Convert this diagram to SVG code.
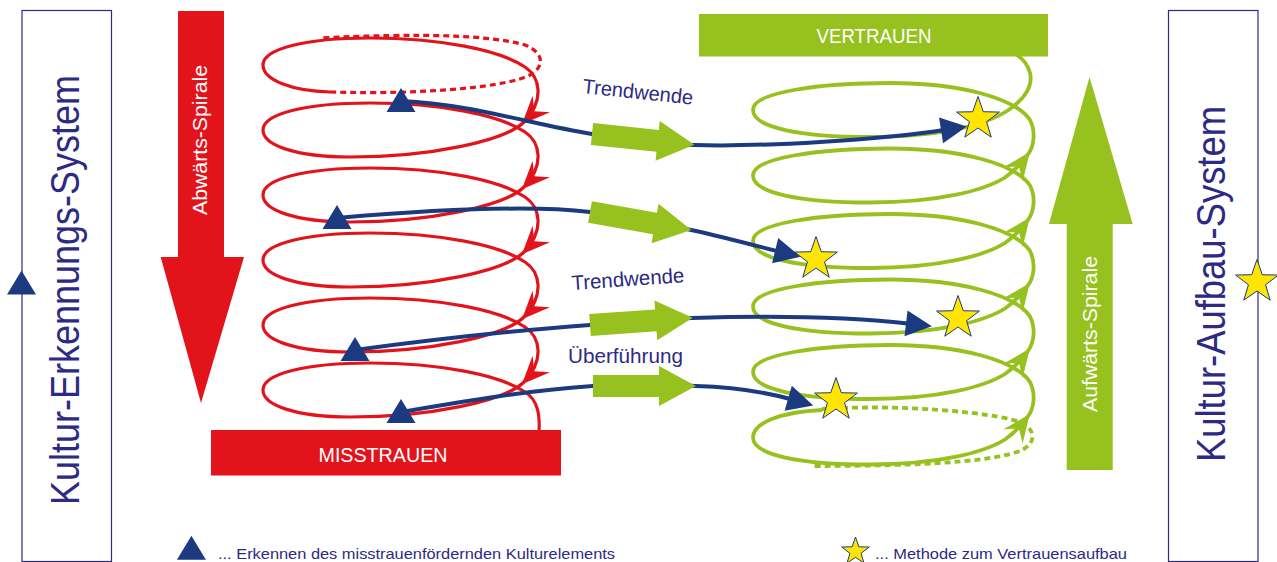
<svg xmlns="http://www.w3.org/2000/svg" width="1277" height="562" viewBox="0 0 1277 562">
<style>
.t{font-family:"Liberation Sans",Arial,sans-serif}
.ind{fill:#2d2a83}
.wh{fill:#ffffff}
.rsp{fill:none;stroke:#e3131b;stroke-width:3.2}
.gsp{fill:none;stroke:#97c11f;stroke-width:3.8}
.rm{marker-end:url(#mRed)}
.gm{marker-end:url(#mGrn)}
.blue{fill:none;stroke:#1c3a80;stroke-width:4;marker-end:url(#mBlue)}
.tri{fill:#1c3a80}
.star{fill:#ffe500;stroke:#1c3a80;stroke-width:1}
.box{fill:none;stroke:#2d2a83;stroke-width:1.2}
.garr{fill:#97c11f}
</style>
<defs>
<marker id="mRed" markerUnits="userSpaceOnUse" markerWidth="40" markerHeight="40" refX="25" refY="12" orient="auto" overflow="visible"><path d="M28,12 L0,0 L10,12 L0,24 z" fill="#e3131b"/></marker>
<marker id="mGrn" markerUnits="userSpaceOnUse" markerWidth="40" markerHeight="40" refX="25" refY="12" orient="auto" overflow="visible"><path d="M28,12 L0,0 L10,12 L0,24 z" fill="#97c11f"/></marker>
<marker id="mBlue" markerUnits="userSpaceOnUse" markerWidth="30" markerHeight="30" refX="6" refY="13" orient="auto" overflow="visible"><path d="M0,0 L26,13 L0,26 z" fill="#1c3a80"/></marker>
<path id="starL" d="M0,-22.5 L5.29,-7.28 L21.4,-6.95 L8.56,2.78 L13.23,18.2 L0,9 L-13.23,18.2 L-8.56,2.78 L-21.4,-6.95 L-5.29,-7.28 z"/>
<path id="starS" d="M0,-14.5 L3.41,-4.69 L13.79,-4.48 L5.52,1.79 L8.52,11.73 L0,5.8 L-8.52,11.73 L-5.52,1.79 L-13.79,-4.48 L-3.41,-4.69 z"/>
<path id="tri" d="M0,-12 L14.5,12 L-14.5,12 z"/>
<path id="blockArrow" d="M0,-11 L66,-11 L66,-20 L103,0 L66,20 L66,11 L0,11 z"/>
</defs>

<g id="box-kultur-erkennungs-system">
<rect class="box" x="22" y="10.5" width="89.5" height="551"/>
<text class="t ind" transform="translate(79,290) rotate(-90)" text-anchor="middle" font-size="40" textLength="430" lengthAdjust="spacingAndGlyphs">Kultur-Erkennungs-System</text>
<use href="#tri" class="tri" x="21.5" y="282.5"/>
</g>

<g id="box-kultur-aufbau-system">
<rect class="box" x="1168.5" y="10.5" width="89.5" height="551"/>
<text class="t ind" transform="translate(1225,284) rotate(-90)" text-anchor="middle" font-size="40" textLength="356" lengthAdjust="spacingAndGlyphs">Kultur-Aufbau-System</text>
<use href="#starL" class="star" x="1257" y="282"/>
</g>

<g id="arrow-abwaerts-spirale">
<polygon points="178,11 224,11 224,257 244,257 201,403 160.7,257 178,257" fill="#e3131b"/>
<text class="t wh" transform="translate(206.5,140) rotate(-90)" text-anchor="middle" font-size="21" textLength="150" lengthAdjust="spacingAndGlyphs">Abwärts-Spirale</text>
</g>

<g id="arrow-aufwaerts-spirale">
<polygon points="1066.7,470 1112.7,470 1112.7,224 1132.7,224 1089.5,77 1049,224 1066.7,224" fill="#97c11f"/>
<text class="t wh" transform="translate(1096.5,334) rotate(-90)" text-anchor="middle" font-size="21" textLength="156" lengthAdjust="spacingAndGlyphs">Aufwärts-Spirale</text>
</g>

<g id="spiral-green">
<path class="gsp" stroke-dasharray="6 4" d="M822,409 C900,404 990,412 1020,422 C1038,430 1036,446 1017,452 C990,461 930,466 813,466"/>
<path class="gsp gm" d="M822,410 C780,412 753,423 753,437.5 C753,455 800,464.5 870,464.5 C940,464.5 985,452 1005,439.5 C1015,432.5 1022,424.5 1028,416.5"/>
<path class="gsp gm" d="M1028,416.5 C1034,408 1036,394 1030,382 C1015,360 960,345 890,345 C820,345 753,354 753,372 C753,389.5 800,399 870,399 C940,399 985,386.5 1005,374 C1015,367 1022,359 1028,351"/>
<path class="gsp gm" d="M1028,351 C1034,342.5 1036,328.5 1030,316.5 C1015,294.5 960,279.5 890,279.5 C820,279.5 753,288.5 753,306.5 C753,324 800,333.5 870,333.5 C940,333.5 985,321 1005,308.5 C1015,301.5 1022,293.5 1028,285.5"/>
<path class="gsp gm" d="M1028,285.5 C1034,277 1036,263 1030,251 C1015,229 960,214 890,214 C820,214 753,223 753,241 C753,258.5 800,268 870,268 C940,268 985,255.5 1005,243 C1015,236 1022,228 1028,220"/>
<path class="gsp gm" d="M1028,220 C1034,211.5 1036,197.5 1030,185.5 C1015,163.5 960,148.5 890,148.5 C820,148.5 753,157.5 753,175.5 C753,193 800,202.5 870,202.5 C940,202.5 985,190 1005,177.5 C1015,170.5 1022,162.5 1028,154.5"/>
<path class="gsp" d="M1028,154.5 C1034,146 1036,132 1030,120 C1015,98 960,83 890,83 C820,83 753,92 753,110 C753,127.5 800,137 870,137 C940,137 985,125 1007,111 C1025,99 1033,86 1030,73 C1028,65 1023,59 1017,55"/>
</g>

<g id="spiral-red">
<path class="rsp" stroke-dasharray="6 4" d="M330,92 C430,95 510,86 530,75 C546,66 543,52 525,45 C490,35 420,33 320,38"/>
<path class="rsp rm" d="M330,92 C292,91 263,80 263,65 C263,49 305,38 370,38 C440,38 500,50 525,67 C540,77 545,100 524,122"/>
<path class="rsp rm" d="M524,122 C505,141 430,157 350,157 C295,157 263,145 263,130 C263,114 305,103 370,103 C440,103 500,115 525,132 C540,142 545,165 524,187"/>
<path class="rsp rm" d="M524,187 C505,206 430,222 350,222 C295,222 263,210 263,195 C263,179 305,168 370,168 C440,168 500,180 525,197 C540,207 545,230 524,252"/>
<path class="rsp rm" d="M524,252 C505,271 430,287 350,287 C295,287 263,275 263,260 C263,244 305,233 370,233 C440,233 500,245 525,262 C540,272 545,295 524,317"/>
<path class="rsp rm" d="M524,317 C505,336 430,352 350,352 C295,352 263,340 263,325 C263,309 305,298 370,298 C440,298 500,310 525,327 C540,337 545,360 524,382"/>
<path class="rsp" d="M524,382 C505,401 430,417 350,417 C295,417 263,405 263,390 C263,374 305,363 370,363 C440,363 500,375 525,392 C538,400 540,415 539,432"/>
</g>

<g id="bar-misstrauen">
<rect x="211" y="430" width="350" height="45.5" fill="#e3131b"/>
<text class="t wh" x="383" y="461.7" text-anchor="middle" font-size="21" textLength="129" lengthAdjust="spacingAndGlyphs">MISSTRAUEN</text>
</g>

<g id="bar-vertrauen">
<rect x="699" y="14" width="349" height="42.5" fill="#97c11f"/>
<text class="t wh" x="874" y="43.3" text-anchor="middle" font-size="21" textLength="115" lengthAdjust="spacingAndGlyphs">VERTRAUEN</text>
</g>

<g id="connectors">
<path class="blue" d="M401,101 C470,104 530,124 592,134 C625,139 660,144 694,145 C760,147 880,140 947,129.5"/>
<path class="blue" d="M337,218 C430,210 530,205 590,212 C625,216 660,224 691,230 C720,236 752,245 781,252"/>
<path class="blue" d="M355,350 C430,340 520,330 590,325 C625,322 660,319 692,318 C780,315 860,318 912,324"/>
<path class="blue" d="M401,412 C460,402 530,390 593,386 C630,384 665,385 696,386 C730,387 766,392 794,400"/>
</g>

<g id="transition-arrows">
<use href="#blockArrow" class="garr" transform="translate(592,134) rotate(6)"/>
<use href="#blockArrow" class="garr" transform="translate(590,212) rotate(10)"/>
<use href="#blockArrow" class="garr" transform="translate(590,325) rotate(-4)"/>
<use href="#blockArrow" class="garr" transform="translate(593,386)"/>
</g>

<g id="recognition-markers">
<use href="#tri" class="tri" x="401" y="100"/>
<use href="#tri" class="tri" x="337" y="217"/>
<use href="#tri" class="tri" x="355" y="349"/>
<use href="#tri" class="tri" x="401" y="411"/>
</g>

<g id="method-stars">
<use href="#starL" class="star" x="978" y="119"/>
<use href="#starL" class="star" x="816" y="259"/>
<use href="#starL" class="star" x="958" y="318"/>
<use href="#starL" class="star" x="836" y="400"/>
</g>

<g id="labels">
<text class="t ind" transform="translate(582,93) rotate(6)" font-size="20.5" textLength="111" lengthAdjust="spacingAndGlyphs">Trendwende</text>
<text class="t ind" transform="translate(572,290) rotate(-4)" font-size="20.5" textLength="113" lengthAdjust="spacingAndGlyphs">Trendwende</text>
<text class="t ind" x="568" y="363" font-size="20.5" textLength="115" lengthAdjust="spacingAndGlyphs">Überführung</text>
</g>

<g id="legend">
<use href="#tri" class="tri" x="191.4" y="547.7"/>
<text class="t ind" x="218" y="558.5" font-size="15" textLength="397" lengthAdjust="spacingAndGlyphs">... Erkennen des misstrauenfördernden Kulturelements</text>
<use href="#starS" class="star" x="855.5" y="551.5"/>
<text class="t ind" x="875" y="559" font-size="15" textLength="252" lengthAdjust="spacingAndGlyphs">... Methode zum Vertrauensaufbau</text>
</g>
</svg>
